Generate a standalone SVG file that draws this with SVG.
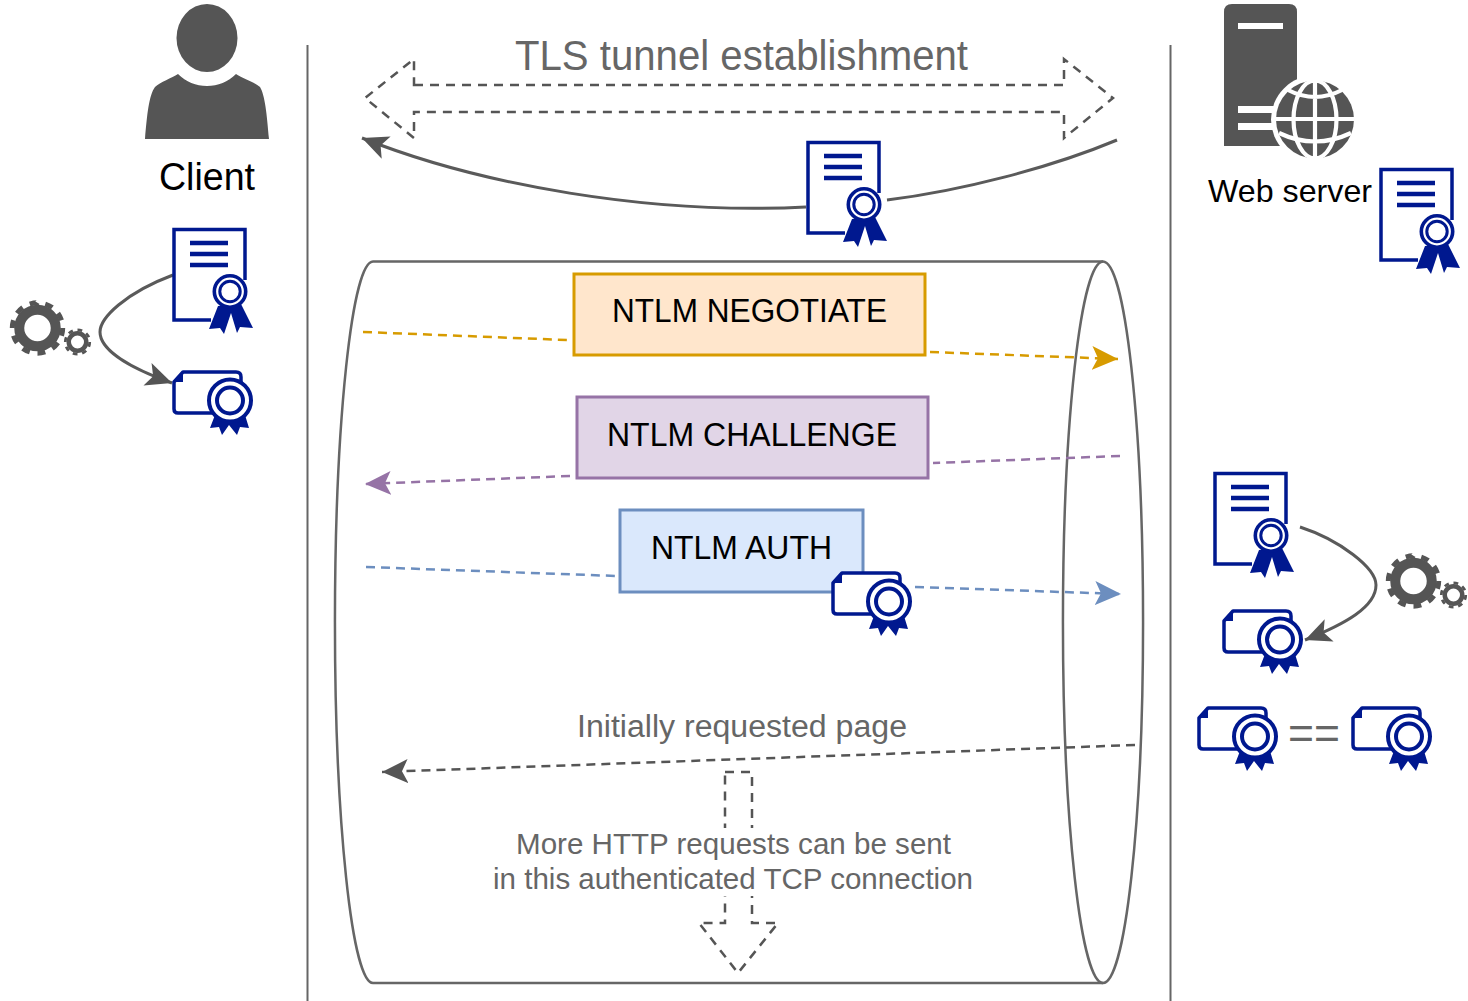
<svg xmlns="http://www.w3.org/2000/svg" xmlns:xlink="http://www.w3.org/1999/xlink" width="1468" height="1001" viewBox="0 0 1468 1001">
<style>
text{font-family:"Liberation Sans",Arial,sans-serif;text-anchor:middle}
.g{fill:#666}.k{fill:#000}
.pole{stroke:#666;stroke-width:2;fill:none}
.curve{stroke:#5a5a5a;stroke-width:3;fill:none}
.dash{stroke-width:2.5;stroke-dasharray:9 6;fill:none}
.outline{stroke:#555;stroke-width:2.5;stroke-dasharray:9 7;fill:none}
.box{stroke-width:3}
.b{fill:none;stroke:#00188f}
.blue{fill:#00188f}
</style>
<defs>
<marker id="aG" markerUnits="userSpaceOnUse" markerWidth="28" markerHeight="26" refX="26" refY="13" orient="auto"><path d="M26,13L0,1L6,13L0,25Z" fill="#555"/></marker>
<marker id="aY" markerUnits="userSpaceOnUse" markerWidth="28" markerHeight="26" refX="26" refY="13" orient="auto"><path d="M26,13L0,1L6,13L0,25Z" fill="#d79b00"/></marker>
<marker id="aP" markerUnits="userSpaceOnUse" markerWidth="28" markerHeight="26" refX="26" refY="13" orient="auto"><path d="M26,13L0,1L6,13L0,25Z" fill="#9673a6"/></marker>
<marker id="aB" markerUnits="userSpaceOnUse" markerWidth="28" markerHeight="26" refX="26" refY="13" orient="auto"><path d="M26,13L0,1L6,13L0,25Z" fill="#6c8ebf"/></marker>
<g id="cert">
<rect x="174" y="229" width="71" height="91" fill="#fff"/>
<path class="b" stroke-width="3.500" d="M211,320H174V229.500H245V280"/>
<path class="b" stroke-width="4.500" d="M190,243H228M190,254H228M190,265H228"/>
<path class="blue" d="M218,306L209,329L220,328L224,334L231,313L237,333L240,327L253,328L241,304Z"/>
<circle cx="230" cy="291.500" r="15.700" fill="#fff" stroke="#00188f" stroke-width="3.600"/>
<circle cx="230" cy="291.500" r="10.200" fill="#fff" stroke="#00188f" stroke-width="3"/>
</g>
<g id="cert2">
<path fill="#fff" stroke="#00188f" stroke-width="3.500" stroke-linejoin="round" d="M214,413H178Q174,413 174,409V382L183,372H236Q241,372 241,377V385"/>
<path class="blue" d="M174,382L183,372V382Z"/>
<path class="blue" d="M215,415L210,428L219,427L222,435L229,425L237,435L240,427L249,428L245,415Z"/>
<circle cx="230" cy="400.500" r="21" fill="#fff" stroke="#00188f" stroke-width="4"/>
<circle cx="230" cy="400.500" r="13" fill="#fff" stroke="#00188f" stroke-width="4"/>
</g>
<g id="gears" fill="none" stroke="#555">
<circle cx="37.500" cy="328" r="18.250" stroke-width="10"/>
<circle cx="37.500" cy="328" r="25.200" stroke-width="5" pathLength="100" stroke-dasharray="5 5"/>
<circle cx="77.500" cy="342" r="8.750" stroke-width="4.500"/>
<circle cx="77.500" cy="342" r="12.200" stroke-width="2.800" pathLength="100" stroke-dasharray="6.250 6.250"/>
</g>
</defs>

<g id="lifelines">
<path class="pole" d="M307.500,45V1001"/>
<path class="pole" d="M1170.500,45V1001"/>
</g>

<g id="tunnel-cylinder">
<path d="M373,261.500H1103A40,360 0 0 1 1103,983H373A38,360 0 0 1 373,261.500Z" fill="#fff" stroke="#666" stroke-width="2.500"/>
<path d="M1103,261.500A40,360 0 0 0 1103,983" fill="none" stroke="#666" stroke-width="2.500"/>
</g>

<g id="connectors">
<path class="outline" d="M414,85H1064V59L1113,98L1064,138V112H414V138L365,98L414,59Z"/>
<path class="curve" marker-end="url(#aG)" d="M806,207C650,215 480,185 362,138"/>
<path class="curve" d="M1117,140C1050,168 960,191 887,200"/>
<path class="curve" marker-end="url(#aG)" d="M173,275C125,293 100,318 100,332C100,350 130,368 172,383"/>
<path class="curve" marker-end="url(#aG)" d="M1300,527C1340,540 1376,568 1376,585C1376,607 1345,624 1305,640"/>
<path class="dash" stroke="#d79b00" d="M363,332L567,340"/>
<path class="dash" stroke="#d79b00" marker-end="url(#aY)" d="M930,352L1118,359"/>
<path class="dash" stroke="#9673a6" d="M1120,456L933,463"/>
<path class="dash" stroke="#9673a6" marker-end="url(#aP)" d="M570,476L365,484"/>
<path class="dash" stroke="#6c8ebf" d="M366,567L617,576"/>
<path class="dash" stroke="#6c8ebf" marker-end="url(#aB)" d="M915,587L1121,594"/>
<path class="dash" stroke="#555" marker-end="url(#aG)" d="M1135,745L382,772"/>
<path class="outline" d="M725,772H752V923H778L738,973L699,923H725Z"/>
</g>

<g id="client">
<ellipse cx="207" cy="38" rx="30.500" ry="34" fill="#555"/>
<path fill="#555" d="M145,139C147,115 149,95 155,87C160,82 172,78 178,74C186,82 196,86 207,86C218,86 228,82 236,74C242,78 254,82 260,87C265,95 267,115 269,139Z"/>
<text class="k" x="207" y="190" font-size="38" textLength="96" lengthAdjust="spacingAndGlyphs">Client</text>
</g>
<g id="client-cert"><use xlink:href="#cert" href="#cert"/></g>
<g id="client-hash"><use xlink:href="#cert2" href="#cert2"/></g>
<g id="client-gears"><use xlink:href="#gears" href="#gears"/></g>

<g id="server">
<path fill="#555" d="M1224,146V12Q1224,4 1232,4H1289Q1297,4 1297,12V146Z"/>
<path fill="#fff" d="M1238,23H1283V29H1238ZM1238,106H1285V113H1238ZM1238,123H1285V130H1238Z"/>
<circle cx="1315" cy="119.500" r="44" fill="#fff"/>
<circle cx="1315" cy="119.500" r="39" fill="#555"/>
<g fill="none" stroke="#fff" stroke-width="4.200">
<ellipse cx="1315" cy="119.500" rx="21.500" ry="39"/>
<path d="M1315,80V158M1276,119H1354M1288,90Q1315,104 1342,90M1279,133Q1315,150 1351,133"/>
</g>
<text class="k" x="1290" y="202" font-size="32" textLength="164" lengthAdjust="spacingAndGlyphs">Web server</text>
</g>
<g id="server-cert"><use xlink:href="#cert" href="#cert" transform="translate(1207,-60)"/></g>

<g id="tls-label"><text class="g" x="741.500" y="70" font-size="42" textLength="453" lengthAdjust="spacingAndGlyphs">TLS tunnel establishment</text></g>
<g id="tls-cert"><use xlink:href="#cert" href="#cert" transform="translate(634,-87)"/></g>

<g id="ntlm-negotiate">
<rect class="box" x="574" y="274" width="351" height="81" fill="#ffe6cc" stroke="#d79b00"/>
<text class="k" x="749.500" y="322" font-size="33" textLength="275" lengthAdjust="spacingAndGlyphs">NTLM NEGOTIATE</text>
</g>
<g id="ntlm-challenge">
<rect class="box" x="577" y="397" width="351" height="81" fill="#e1d5e7" stroke="#9673a6"/>
<text class="k" x="752" y="446" font-size="33" textLength="290" lengthAdjust="spacingAndGlyphs">NTLM CHALLENGE</text>
</g>
<g id="ntlm-auth">
<rect class="box" x="620" y="510" width="243" height="82" fill="#dae8fc" stroke="#6c8ebf"/>
<text class="k" x="741.500" y="559" font-size="33" textLength="181" lengthAdjust="spacingAndGlyphs">NTLM AUTH</text>
</g>
<g id="auth-hash"><use xlink:href="#cert2" href="#cert2" transform="translate(659,201)"/></g>

<g id="page-label"><text class="g" x="742" y="737" font-size="31" textLength="330" lengthAdjust="spacingAndGlyphs">Initially requested page</text></g>

<g id="more-requests">
<rect x="700" y="828" width="80" height="68" fill="#fff"/>
<text class="g" x="733.500" y="854" font-size="30" textLength="435" lengthAdjust="spacingAndGlyphs">More HTTP requests can be sent</text>
<text class="g" x="733" y="889" font-size="30" textLength="480" lengthAdjust="spacingAndGlyphs">in this authenticated TCP connection</text>
</g>

<g id="server-cert-check"><use xlink:href="#cert" href="#cert" transform="translate(1041,244)"/></g>
<g id="server-hash"><use xlink:href="#cert2" href="#cert2" transform="translate(1050,239)"/></g>
<g id="server-gears"><use xlink:href="#gears" href="#gears" transform="translate(1376,253)"/></g>
<g id="compare">
<use xlink:href="#cert2" href="#cert2" transform="translate(1025,336)"/>
<text class="g" x="1314" y="749" font-size="46" textLength="52" lengthAdjust="spacingAndGlyphs">==</text>
<use xlink:href="#cert2" href="#cert2" transform="translate(1179,336)"/>
</g>
</svg>
